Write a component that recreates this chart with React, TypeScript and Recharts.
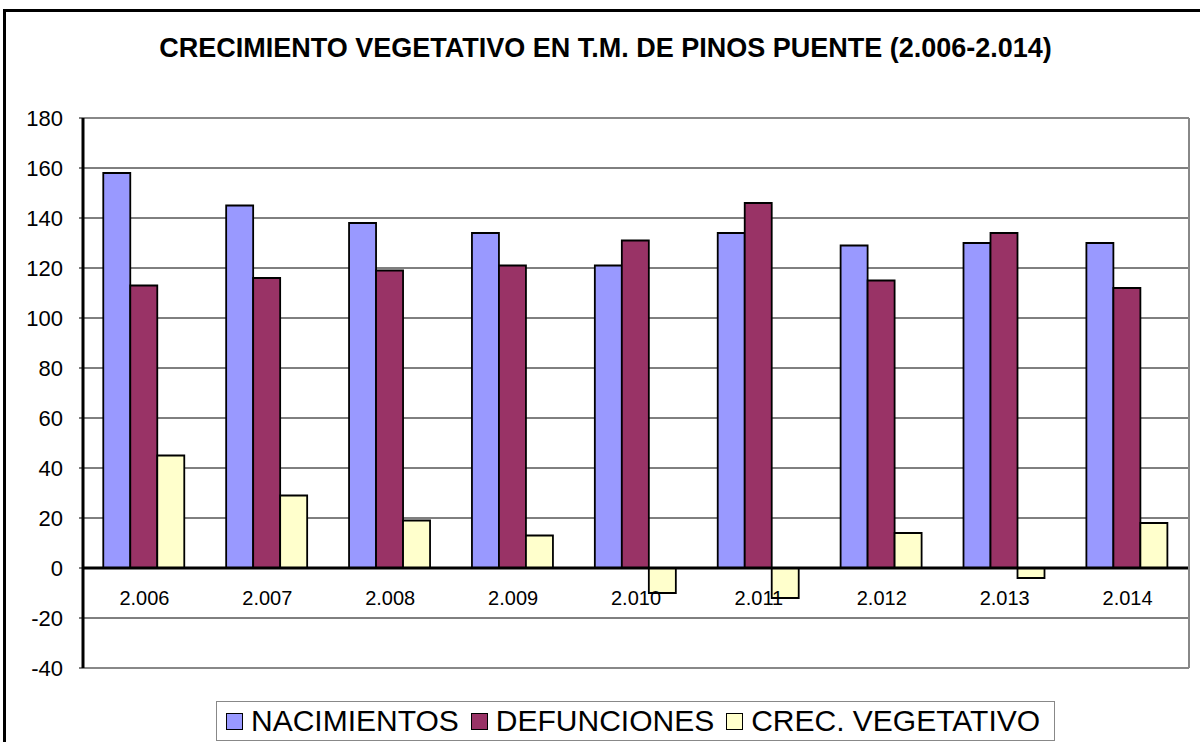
import React from 'react';
import { BarChart, Bar, XAxis, YAxis, CartesianGrid, ReferenceLine } from 'recharts';

const years = ['2.006', '2.007', '2.008', '2.009', '2.010', '2.011', '2.012', '2.013', '2.014'];
const nacimientos = [158, 145, 138, 134, 121, 134, 129, 130, 130];
const defunciones = [113, 116, 119, 121, 131, 146, 115, 134, 112];
const crecimiento = [45, 29, 19, 13, -10, -12, 14, -4, 18];
const yTicks = [-40, -20, 0, 20, 40, 60, 80, 100, 120, 140, 160, 180];

const series = [
  { key: 'nac', name: 'NACIMIENTOS', color: '#9999FF' },
  { key: 'def', name: 'DEFUNCIONES', color: '#993366' },
  { key: 'crec', name: 'CREC. VEGETATIVO', color: '#FFFFCC' },
];

const data = years.map((y, i) => ({
  year: y,
  nac: nacimientos[i],
  def: defunciones[i],
  crec: crecimiento[i],
}));

const font = '"Liberation Sans", Arial, sans-serif';

const App: React.FC = () => {
  return (
    <div style={{ position: 'fixed', left: 0, top: 0, width: 1200, height: 742, overflow: 'hidden', background: '#fff', fontFamily: font }}>
      {/* outer frame, runs off the right and bottom edges */}
      <div style={{ position: 'absolute', left: 3, top: 9, width: 1220, height: 760, border: '3px solid #000' }} />

      <div style={{ position: 'absolute', left: 0, top: 33, width: 1211, textAlign: 'center', fontWeight: 'bold', fontSize: 27, whiteSpace: 'nowrap' }}>
        CRECIMIENTO VEGETATIVO EN T.M. DE PINOS PUENTE (2.006-2.014)
      </div>

      <div style={{ position: 'absolute', left: 0, top: 0 }}>
        <BarChart width={1200} height={742} data={data} margin={{ top: 118, right: 10, bottom: 44, left: 0 }} barCategoryGap="16.5%" barGap={0}>
          <CartesianGrid vertical={false} stroke="#000" strokeWidth={1} />
          <XAxis dataKey="year" height={30} axisLine={false} tickLine={false} interval={0}
            tick={{ fontSize: 20, fill: '#000', fontFamily: font, dy: -85 }} />
          <YAxis domain={[-40, 180]} ticks={yTicks} width={83} interval={0}
            axisLine={{ stroke: '#000', strokeWidth: 3 }} tickLine={{ stroke: '#000' }} tickSize={4} tickMargin={16}
            tick={{ fontSize: 22, fill: '#000', fontFamily: font }} />
          <YAxis yAxisId="right" orientation="right" domain={[-40, 180]} width={1} tick={false} tickLine={false}
            axisLine={{ stroke: '#888', strokeWidth: 2 }} />
          {series.map((s) => (
            <Bar key={s.key} dataKey={s.key} name={s.name} fill={s.color} stroke="#000" strokeWidth={1.8} isAnimationActive={false} />
          ))}
          <ReferenceLine y={180} stroke="#888" strokeWidth={2} />
          <ReferenceLine y={-40} stroke="#888" strokeWidth={2} />
          <ReferenceLine y={0} stroke="#000" strokeWidth={3} />
        </BarChart>
      </div>

      <div style={{ position: 'absolute', left: 216, top: 701, width: 839, height: 40, border: '1px solid #888', background: '#fff', display: 'flex', alignItems: 'center', boxSizing: 'border-box' }}>
        {series.map((s, i) => (
          <div key={s.key} style={{ display: 'flex', alignItems: 'center', marginLeft: i === 0 ? 9 : 12 }}>
            <div style={{ width: 17, height: 17, background: s.color, border: '1.5px solid #000', boxSizing: 'border-box', marginRight: 8 }} />
            <span style={{ fontSize: 30, lineHeight: '34px', color: '#000' }}>{s.name}</span>
          </div>
        ))}
      </div>
    </div>
  );
};

export default App;
